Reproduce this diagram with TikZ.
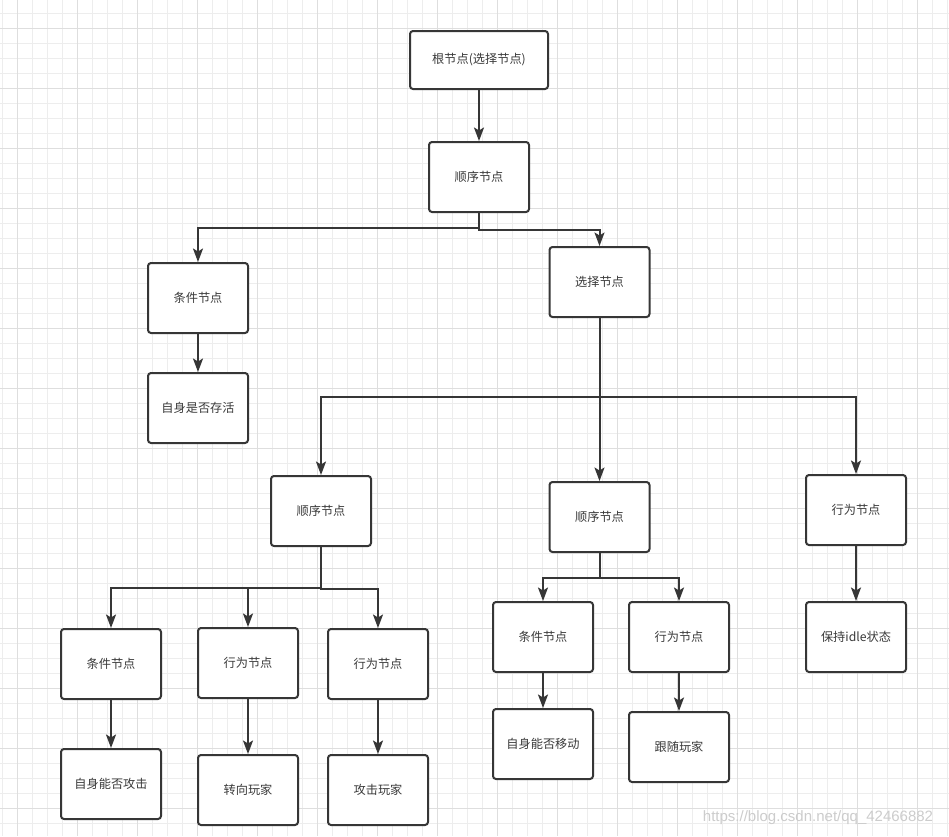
\documentclass[tikz,border=0pt]{standalone}
\usepackage{fontspec}
\newfontfamily\cjk{Noto Sans CJK SC}
\newfontfamily\wmfont{Liberation Sans}
\usetikzlibrary{arrows.meta}
\definecolor{edgec}{HTML}{363636}
\definecolor{txtc}{HTML}{3A3A3A}
\definecolor{gridminor}{HTML}{EDEDED}
\definecolor{gridmajor}{HTML}{DEDEDE}
\begin{document}
\begin{tikzpicture}[x=1pt,y=-1pt,
  box/.style={draw=edgec, line width=2pt, rounded corners=3pt, fill=white,
    minimum width=100pt, minimum height=70pt, inner sep=0pt,
    font=\cjk\fontsize{12.2}{15}\selectfont, text=txtc},
  arr/.style={draw=edgec, line width=2pt,
    -{Stealth[length=13.5pt,width=10pt,inset=3pt]}},
]
\useasboundingbox (0,0) rectangle (949,836);
\fill[white] (0,0) rectangle (949,836);
% grid
\foreach \i in {0,...,63} \draw[gridminor, line width=1pt] ({2.3+15*\i},0) -- ({2.3+15*\i},836);
\foreach \i in {0,...,54} \draw[gridminor, line width=1pt] (0,{13.3+15*\i}) -- (949,{13.3+15*\i});
\foreach \i in {0,...,15} \draw[gridmajor, line width=1pt] ({17.3+60*\i},0) -- ({17.3+60*\i},836);
\foreach \i in {0,...,13} \draw[gridmajor, line width=1pt] (0,{28.3+60*\i}) -- (949,{28.3+60*\i});

% nodes
\node[box, minimum width=138pt, minimum height=58pt] (root) at (479,60) {根节点(选择节点)};
\node[box] (seq1) at (479,177) {顺序节点};
\node[box] (cond1) at (198,298) {条件节点};
\node[box] (alive) at (198,408) {自身是否存活};
\node[box] (sel1) at (599.5,282) {选择节点};
\node[box] (seqL) at (321,511) {顺序节点};
\node[box] (seqM) at (599.5,517) {顺序节点};
\node[box] (act1) at (856,510) {行为节点};
\node[box] (cond2) at (111,664) {条件节点};
\node[box] (canatk) at (111,784) {自身能否攻击};
\node[box] (act2) at (248,663) {行为节点};
\node[box] (turn) at (248,790) {转向玩家};
\node[box] (act3) at (378,664) {行为节点};
\node[box] (attack) at (378,790) {攻击玩家};
\node[box] (cond3) at (543,637) {条件节点};
\node[box] (canmove) at (543,744) {自身能否移动};
\node[box] (act4) at (679,637) {行为节点};
\node[box] (follow) at (679,747) {跟随玩家};
\node[box] (idle) at (856,637) {保持idle状态};

% connectors
\draw[arr] (root) -- (seq1);
\draw[arr] (seq1.south) -- ++(0,15) -| (cond1.north);
\draw[arr] (seq1.south) -- ++(0,17) -| (sel1.north);
\draw[arr] (cond1) -- (alive);
\draw[arr] (sel1.south) -- ++(0,79) -| (seqL.north);
\draw[arr] (sel1.south) -- (seqM.north);
\draw[arr] (sel1.south) -- ++(0,79) -| (act1.north);
\draw[arr] (seqL.south) -- ++(0,41) -| (cond2.north);
\draw[arr] (seqL.south) -- ++(0,41) -| (act2.north);
\draw[arr] (seqL.south) -- ++(0,42) -| (act3.north);
\draw[arr] (cond2) -- (canatk);
\draw[arr] (act2) -- (turn);
\draw[arr] (act3) -- (attack);
\draw[arr] (seqM.south) -- ++(0,25) -| (cond3.north);
\draw[arr] (seqM.south) -- ++(0,25) -| (act4.north);
\draw[arr] (cond3) -- (canmove);
\draw[arr] (act4) -- (follow);
\draw[arr] (act1) -- (idle);

% watermark
\node[font=\wmfont\fontsize{15}{15}\selectfont, text=gray!40, inner sep=0pt] (wm) at (818,818) {https://blog.csdn.net/qq\_42466882};
\end{tikzpicture}
\end{document}
